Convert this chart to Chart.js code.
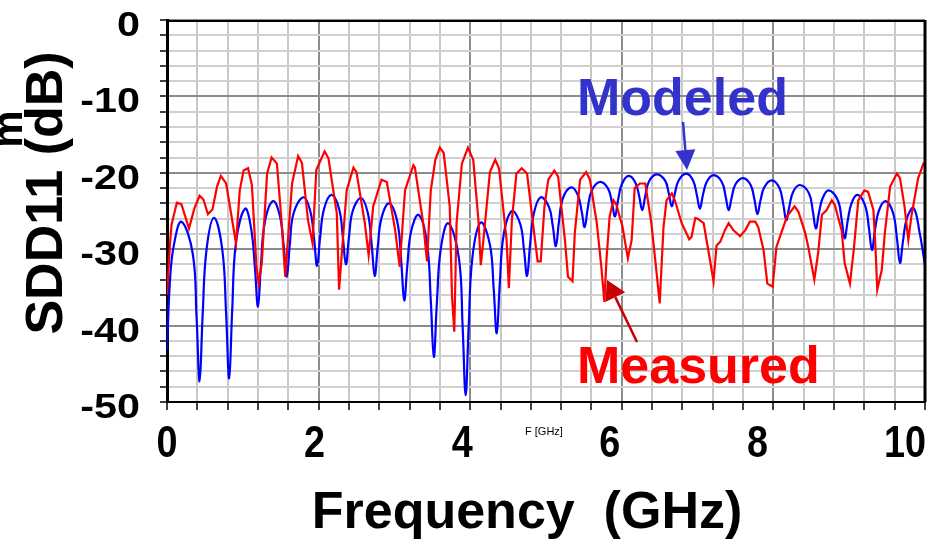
<!DOCTYPE html>
<html>
<head>
<meta charset="utf-8">
<title>SDD11 - Measured vs Modeled</title>
<script src="https://cdn.jsdelivr.net/npm/chart.js@4.4.0/dist/chart.umd.min.js"></script>
<style>
    html, body { margin: 0; padding: 0; background: #fff; }
    #wrap { width: 951px; height: 547px; }
</style>
</head>
<body>
<div id="wrap"><canvas id="chart" width="951" height="547"></canvas></div>
<script>
// Tick labels
const xTickLabels = ['0', '2', '4', '6', '8', '10'];
const yTickLabels = ['0', '-10', '-20', '-30', '-40', '-50'];

// Measured SDD11 (red)
const measuredFreq = [
    0.00, 0.04, 0.06, 0.13, 0.19, 0.29, 0.36, 0.43, 0.48, 0.54, 0.60, 0.66, 0.71, 0.78, 0.91, 0.96,
    1.01, 1.07, 1.12, 1.18, 1.21, 1.25, 1.32, 1.38, 1.45, 1.51, 1.56, 1.65, 1.73, 1.78, 1.86, 1.92, 1.97,
    2.08, 2.13, 2.24, 2.27, 2.31, 2.37, 2.46, 2.50, 2.61, 2.66, 2.72, 2.83, 2.90,
    3.01, 3.07, 3.14, 3.25, 3.27, 3.38, 3.43, 3.48, 3.54, 3.60, 3.65, 3.73, 3.76, 3.79, 3.82, 3.89, 3.97,
    4.04, 4.11, 4.14, 4.17, 4.26, 4.33, 4.38, 4.48, 4.51, 4.55, 4.61, 4.68, 4.75, 4.85, 4.89, 4.93, 4.98,
    5.03, 5.11, 5.16, 5.25, 5.29, 5.35, 5.38, 5.45, 5.53, 5.58, 5.67, 5.73, 5.77, 5.80, 5.84, 5.89, 5.93,
    6.01, 6.08, 6.13, 6.17, 6.24, 6.31, 6.39, 6.46, 6.50, 6.55, 6.59, 6.66, 6.70, 6.79, 6.89, 6.92, 6.97,
    7.00, 7.08, 7.17, 7.21, 7.25, 7.30, 7.36, 7.41, 7.47, 7.56, 7.63, 7.69, 7.76, 7.80, 7.87, 7.92, 7.99,
    8.04, 8.11, 8.18, 8.28, 8.33, 8.42, 8.46, 8.54, 8.59, 8.64, 8.70, 8.77, 8.81, 8.90, 8.94,
    9.01, 9.06, 9.12, 9.20, 9.25, 9.32, 9.35, 9.37, 9.43, 9.47, 9.54, 9.63, 9.67, 9.73, 9.78, 9.82, 9.91, 9.98,
    10.00
];
const measuredDb = [
    -36.0, -29.2, -26.8, -23.9, -24.1, -27.3, -24.7, -23.0, -23.5, -25.4, -24.8, -21.8, -20.4, -21.4, -29.2, -22.3,
    -19.7, -19.4, -21.6, -32.3, -34.5, -31.9, -20.1, -18.0, -18.8, -26.2, -33.6, -21.4, -17.8, -18.7, -26.2, -29.2, -19.6,
    -17.2, -18.1, -25.3, -35.3, -30.1, -22.3, -19.3, -19.9, -26.6, -30.8, -24.4, -20.9, -21.2,
    -27.5, -32.3, -22.3, -19.0, -19.3, -26.6, -31.6, -22.3, -18.3, -16.7, -17.4, -24.4, -36.2, -40.8, -26.6, -18.8, -16.7,
    -18.3, -26.4, -32.1, -29.2, -19.9, -18.3, -19.4, -28.8, -35.1, -26.2, -20.1, -19.4, -20.1, -28.4, -31.6, -31.6, -24.4,
    -20.9, -19.7, -20.5, -28.8, -33.6, -34.2, -27.9, -20.9, -19.9, -20.9, -26.6, -32.3, -36.9, -31.0, -25.7, -23.6, -24.2,
    -27.1, -31.2, -28.8, -22.0, -21.4, -21.4, -26.6, -33.2, -37.1, -27.1, -23.6, -22.7, -23.6, -26.6, -28.7, -28.4, -25.9,
    -26.0, -26.6, -31.8, -34.2, -29.5, -29.0, -27.5, -26.6, -27.5, -28.3, -27.5, -26.4, -26.4, -27.1, -30.1, -34.5, -34.9,
    -29.7, -27.7, -25.7, -24.4, -25.1, -27.9, -29.7, -34.0, -30.5, -25.5, -24.9, -23.6, -24.2, -27.5, -31.8,
    -34.5, -30.1, -23.6, -22.3, -22.5, -24.9, -30.5, -35.3, -32.7, -27.9, -21.8, -20.1, -20.7, -24.4, -28.8, -25.7, -20.7, -18.8,
    -18.9
];

// Modeled SDD11 (blue), peaks, nulls and the walls between them
const modeledFreq = [
    0.00, 0.04, 0.09, 0.19, 0.34, 0.39, 0.43, 0.47, 0.52, 0.62, 0.73, 0.78, 0.82, 0.86, 0.91,
    1.03, 1.11, 1.16, 1.20, 1.24, 1.29, 1.40, 1.49, 1.54, 1.58, 1.62, 1.67, 1.80, 1.89, 1.94, 1.98,
    2.02, 2.07, 2.17, 2.27, 2.32, 2.36, 2.40, 2.45, 2.56, 2.65, 2.70, 2.74, 2.78, 2.83, 2.93,
    3.04, 3.09, 3.13, 3.17, 3.22, 3.32, 3.43, 3.48, 3.52, 3.56, 3.61, 3.71, 3.85, 3.90, 3.94, 3.98,
    4.03, 4.14, 4.26, 4.31, 4.35, 4.39, 4.44, 4.55, 4.66, 4.71, 4.75, 4.79, 4.84, 4.93,
    5.04, 5.09, 5.13, 5.17, 5.22, 5.33, 5.42, 5.47, 5.51, 5.55, 5.60, 5.71, 5.82, 5.87, 5.91, 5.95,
    6.00, 6.09, 6.18, 6.23, 6.27, 6.31, 6.36, 6.46, 6.57, 6.62, 6.66, 6.70, 6.75, 6.85, 6.94, 6.99,
    7.03, 7.07, 7.12, 7.21, 7.32, 7.37, 7.41, 7.45, 7.50, 7.60, 7.70, 7.75, 7.79, 7.83, 7.88, 7.98,
    8.08, 8.13, 8.17, 8.21, 8.26, 8.35, 8.47, 8.52, 8.56, 8.60, 8.65, 8.73, 8.85, 8.90, 8.94, 8.98,
    9.03, 9.11, 9.21, 9.26, 9.30, 9.34, 9.39, 9.48, 9.58, 9.63, 9.67, 9.71, 9.76, 9.85, 9.93,
    10.00
];
const modeledDb = [
    -43.2, -34.0, -29.5, -26.4, -30.6, -38.9, -47.3, -38.7, -30.2, -25.9, -30.1, -38.5, -46.9, -38.0, -29.1,
    -24.7, -27.3, -32.4, -37.5, -32.0, -26.5, -23.7, -25.7, -29.6, -33.6, -29.4, -25.3, -23.2, -25.0, -28.6, -32.2,
    -28.5, -24.8, -22.9, -24.7, -28.4, -32.0, -28.5, -25.0, -23.3, -25.3, -29.4, -33.5, -29.7, -25.9, -24.0,
    -26.5, -31.6, -36.7, -32.2, -27.7, -25.5, -29.2, -36.7, -44.1, -37.1, -30.1, -26.6, -31.1, -40.1, -49.1, -40.1,
    -31.0, -26.5, -29.4, -35.2, -41.0, -34.6, -28.2, -25.0, -26.7, -30.1, -33.5, -29.4, -25.3, -23.2,
    -24.5, -27.0, -29.6, -26.5, -23.4, -21.9, -22.9, -25.0, -27.1, -24.7, -22.4, -21.2, -22.1, -23.9, -25.7, -23.6,
    -21.5, -20.4, -21.3, -23.1, -24.9, -23.0, -21.1, -20.2, -21.0, -22.7, -24.4, -22.7, -21.0, -20.1, -21.0, -22.9,
    -24.7, -22.9, -21.2, -20.3, -21.2, -23.1, -24.9, -23.2, -21.5, -20.7, -21.6, -23.5, -25.4, -23.6, -21.9, -21.0,
    -22.0, -24.1, -26.2, -24.4, -22.5, -21.6, -22.7, -25.0, -27.3, -25.3, -23.3, -22.3, -23.6, -26.1, -28.6, -26.3,
    -24.0, -22.9, -24.3, -27.2, -30.1, -27.5, -25.0, -23.7, -25.3, -28.6, -31.8, -28.9, -26.0, -24.6, -27.9,
    -32.1
];

const FONT = '"Liberation Sans", Arial, Helvetica, sans-serif';

// Build {x, y} points
const toPoints = (xs, ys) => xs.map((x, i) => ({ x: x, y: ys[i] }));

// Is value a multiple of step
const isMajor = (v, step) => Math.abs(v / step - Math.round(v / step)) < 1e-6;

// Draw a straight arrow with a filled head
function drawArrow(c, x1, y1, x2, y2, color, headLen, headHalf) {
    const a = Math.atan2(y2 - y1, x2 - x1);
    const bx = x2 - headLen * Math.cos(a);
    const by = y2 - headLen * Math.sin(a);
    c.strokeStyle = color;
    c.fillStyle = color;
    c.lineWidth = 2.5;
    c.beginPath();
    c.moveTo(x1, y1);
    c.lineTo(bx, by);
    c.stroke();
    c.beginPath();
    c.moveTo(x2, y2);
    c.lineTo(bx + headHalf * Math.sin(a), by - headHalf * Math.cos(a));
    c.lineTo(bx - headHalf * Math.sin(a), by + headHalf * Math.cos(a));
    c.closePath();
    c.fill();
}

// Labels, titles, frame and annotations
const decorPlugin = {
    id: 'decor',
    beforeDraw(chart) {
        const c = chart.ctx;
        c.save();
        c.fillStyle = '#fff';
        c.fillRect(0, 0, chart.width, chart.height);
        c.restore();
    },
    afterDraw(chart) {
        const c = chart.ctx;
        const area = chart.chartArea;
        const xs = chart.scales.x;
        const ys = chart.scales.y;
        c.save();

        // top and right frame
        c.strokeStyle = '#000';
        c.lineWidth = 2;
        c.beginPath();
        c.moveTo(area.left, area.top + 1);
        c.lineTo(area.right, area.top + 1);
        c.stroke();
        c.lineWidth = 3;
        c.beginPath();
        c.moveTo(area.right, area.top);
        c.lineTo(area.right, area.bottom);
        c.stroke();

        // y tick labels (a little wide, like the original)
        c.fillStyle = '#000';
        c.font = 'bold 35px ' + FONT;
        c.textAlign = 'right';
        c.textBaseline = 'alphabetic';
        yTickLabels.forEach(t => {
            c.save();
            c.translate(140, ys.getPixelForValue(Number(t)) + 16);
            c.scale(1.18, 1);
            c.fillText(t, 0, 0);
            c.restore();
        });

        // x tick labels (tall, and spread a bit tighter than the ticks)
        c.font = 'bold 36px ' + FONT;
        c.textAlign = 'center';
        const span = xs.max - xs.min;
        xTickLabels.forEach(t => {
            const v = Number(t);
            const x = area.left + (v - xs.min) / span * (area.right - area.left - 20);
            c.save();
            c.translate(x, 457);
            c.scale(1.05, 1.22);
            c.fillText(t, 0, 0);
            c.restore();
        });

        // axis titles
        c.font = 'bold 52px ' + FONT;
        c.textAlign = 'center';
        c.fillText('Frequency  (GHz)', 527, 528);
        c.save();
        c.translate(62, 193);
        c.rotate(-Math.PI / 2);
        c.fillText('SDD11 (dB)', 0, 0);
        c.restore();
        c.save();
        c.font = 'bold 42px ' + FONT;
        c.translate(22, 129);
        c.rotate(-Math.PI / 2);
        c.fillText('m', 0, 0);
        c.restore();

        c.font = '11px ' + FONT;
        c.textAlign = 'left';
        c.fillText('F [GHz]', 525, 435);

        // annotations
        c.font = 'bold 52px ' + FONT;
        c.fillStyle = '#3333cc';
        c.fillText('Modeled', 577, 115);
        drawArrow(c, 683, 122, 687, 170, '#3333cc', 20, 10);

        c.fillStyle = '#ff0000';
        c.fillText('Measured', 577, 383);
        drawArrow(c, 637, 342, 607, 280, '#c80000', 19, 11);

        c.restore();
    }
};

const ctx = document.getElementById('chart');

new Chart(ctx, {
    type: 'line',
    data: {
        datasets: [
            {
                label: 'Measured',
                data: toPoints(measuredFreq, measuredDb),
                borderColor: '#ff0000',
                borderWidth: 2.2,
                pointRadius: 0,
                tension: 0,
                fill: false
            },
            {
                label: 'Modeled',
                data: toPoints(modeledFreq, modeledDb),
                borderColor: '#0000ff',
                borderWidth: 2.2,
                pointRadius: 0,
                tension: 0.4,
                fill: false
            }
        ]
    },
    options: {
        responsive: false,
        animation: false,
        devicePixelRatio: 1,
        layout: { padding: { left: 0, top: 20, right: 26, bottom: 0 } },
        plugins: {
            legend: { display: false },
            tooltip: { enabled: false }
        },
        scales: {
            x: {
                type: 'linear',
                min: 0,
                max: 10,
                ticks: { display: false, stepSize: 0.4, autoSkip: false },
                grid: {
                    color: c => isMajor(c.tick.value, 2) ? '#8c8c8c' : '#c8c8c8',
                    lineWidth: 2,
                    tickLength: 8,
                    tickColor: '#000',
                    tickWidth: 1.5
                },
                border: { color: '#000', width: 2 },
                afterFit: s => { s.height = 145; }
            },
            y: {
                min: -50,
                max: 0,
                ticks: { display: false, stepSize: 2, autoSkip: false },
                grid: {
                    color: c => isMajor(c.tick.value, 10) ? '#8c8c8c' : '#d0d0d0',
                    lineWidth: 2,
                    tickLength: 7,
                    tickColor: '#000',
                    tickWidth: 1.5
                },
                border: { color: '#000', width: 3 },
                afterFit: s => { s.width = 167; }
            }
        }
    },
    plugins: [decorPlugin]
});
</script>
</body>
</html>
